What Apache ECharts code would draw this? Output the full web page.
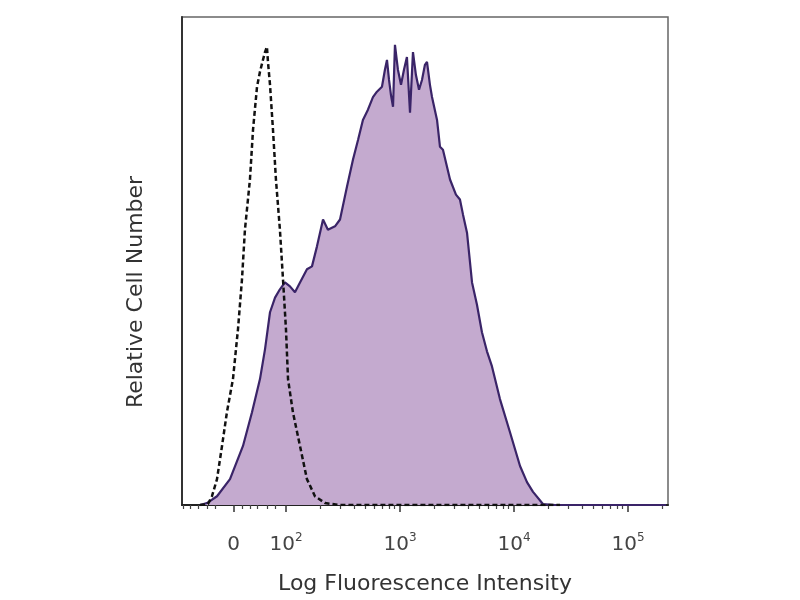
<!DOCTYPE html>
<html>
<head>
<meta charset="utf-8">
<script src="https://cdn.jsdelivr.net/npm/echarts@6/dist/echarts.min.js"></script>
<style>html,body{margin:0;padding:0;background:#fff}#c{width:800px;height:600px}</style>
</head>
<body>
<div id="c"></div>
<script>
// x in display decades (biexponential-like scale: 2 = 10^2, 3 = 10^3 ...), y = relative count (% of max)
var stainedX = [1.246,1.307,1.395,1.509,1.623,1.702,1.772,1.816,1.860,1.904,1.947,1.991,2.035,2.079,2.123,2.184,2.228,2.272,2.325,2.368,2.430,2.474,2.535,2.588,2.632,2.675,2.719,2.763,2.798,2.842,2.868,2.886,2.904,2.921,2.939,2.956,2.982,3.009,3.035,3.061,3.088,3.114,3.140,3.167,3.193,3.219,3.237,3.263,3.281,3.325,3.351,3.377,3.439,3.491,3.526,3.553,3.588,3.632,3.675,3.719,3.763,3.807,3.877,3.965,4.053,4.114,4.167,4.254,4.360,5.333];
var stainedY = [0,0.4,1.8,5.3,12.1,19.0,25.8,31.9,39.5,42.5,44.2,45.6,44.8,43.6,45.6,48.3,48.9,53.0,58.5,56.4,57.1,58.5,65.2,70.8,74.8,78.9,81.0,83.6,84.7,85.7,89.2,91.2,87.1,84.0,81.6,94.3,89.2,86.1,89.2,91.8,80.4,92.8,88.1,85.1,87.1,90.2,90.8,86.1,83.6,78.9,73.4,72.8,66.7,63.6,62.6,59.5,55.8,45.6,41.1,35.4,31.5,28.4,21.7,14.9,8.0,4.7,2.7,0.2,0,0];
var isotypeX = [1.246,1.316,1.351,1.395,1.439,1.482,1.535,1.579,1.614,1.640,1.684,1.711,1.746,1.772,1.798,1.816,1.833,1.842,1.860,1.886,1.912,1.947,1.974,2.000,2.018,2.061,2.123,2.184,2.254,2.342,2.474,4.404];
var isotypeY = [0,0.2,1.8,5.3,12.1,19.0,25.8,36.0,46.2,56.4,66.7,76.9,85.7,88.8,91.2,92.8,93.9,90.8,86.1,76.9,66.7,56.4,46.2,36.0,25.8,19.0,12.1,5.3,1.8,0.4,0,0];
var majorTicks = [1.54, 2, 3, 4, 5];
var majorLabels = ['{s| }0{s| }', '10{s|2}', '10{s|3}', '10{s|4}', '10{s|5}'];
var minorTicks = [1.096,1.158,1.228,1.307,1.377,1.614,1.684,1.746,1.833,1.904];
[2,3,4,5].forEach(function(n){ for (var k=2;k<=9;k++){ var v=n+Math.log10(k); if (v<5.35) minorTicks.push(+v.toFixed(3)); } });

function zip(a,b){ return a.map(function(x,i){ return [x,b[i]]; }); }

var font = 'DejaVu Sans';
var chart = echarts.init(document.getElementById('c'), null, {renderer:'canvas'});
chart.setOption({
  animation:false,
  backgroundColor:'#fff',
  grid:{left:182,right:132,top:17,bottom:94,show:true,borderColor:'#666',borderWidth:1.5},
  xAxis:[{
    type:'value', min:1.088, max:5.351,
    name:'Log Fluorescence Intensity', nameLocation:'middle', nameGap:68,
    nameTextStyle:{fontFamily:font,fontSize:22,color:'#333'},
    axisLine:{show:true,onZero:false,lineStyle:{color:'#222',width:2}},
    axisTick:{show:true,length:7,customValues:majorTicks,lineStyle:{color:'#333',width:1.5}},
    axisLabel:{show:true,customValues:majorTicks,margin:27,fontFamily:font,fontSize:20,color:'#444',
      formatter:function(v){ var i=majorTicks.indexOf(v); return i>=0?majorLabels[i]:''; },
      rich:{s:{fontFamily:font,fontSize:12,color:'#444',verticalAlign:'bottom',padding:[0,0,13,0]}}},
    splitLine:{show:false}
  },{
    type:'value', min:1.088, max:5.351, position:'bottom',
    axisLine:{show:false},
    axisTick:{show:true,length:4,customValues:minorTicks,lineStyle:{color:'#444',width:1.2}},
    axisLabel:{show:false}, splitLine:{show:false}
  }],
  yAxis:{
    type:'value', min:0, max:100,
    name:'Relative Cell Number', nameLocation:'middle', nameGap:35,
    nameTextStyle:{fontFamily:font,fontSize:22,color:'#333',padding:[0,62,0,0]},
    axisLine:{show:true,lineStyle:{color:'#333',width:2}},
    axisTick:{show:false}, axisLabel:{show:false}, splitLine:{show:false}
  },
  series:[{
    type:'line', data:zip(stainedX,stainedY), showSymbol:false, smooth:false,
    lineStyle:{color:'#3a2468',width:2.2},
    areaStyle:{color:'#c4aacf',opacity:1}
  },{
    type:'line', data:zip(isotypeX,isotypeY), showSymbol:false, smooth:false,
    lineStyle:{color:'#111',width:2.5,type:[5,3]}
  }]
});
</script>
</body>
</html>
